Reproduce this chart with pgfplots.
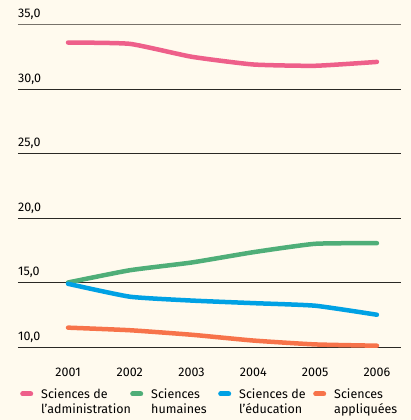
\documentclass[border=0pt]{standalone}
\usepackage{fontspec}
\setmainfont{Fira Sans}
\usepackage{pgfplots}
\pgfplotsset{compat=1.18}
\definecolor{bg}{HTML}{FFFAEE}
\definecolor{cpink}{HTML}{EE5F8A}
\definecolor{cgreen}{HTML}{4FAE78}
\definecolor{cblue}{HTML}{00A1E4}
\definecolor{corange}{HTML}{F7734A}
\definecolor{gridc}{HTML}{2A2824}
\definecolor{gridtop}{HTML}{77726A}
\begin{document}
\begin{tikzpicture}[font=\fontsize{12.5}{15}\selectfont]
\fill[bg] (-18pt,-73pt) rectangle (393pt,347pt);
\begin{axis}[
  scale only axis, width=383pt, height=322.5pt,
  xmin=2000.19, xmax=2006.39, ymin=10, ymax=35,
  axis line style={draw=none}, major tick length=0pt,
  ytick={10,15,20,25,30},
  extra y ticks={35},
  extra y tick style={grid style={gridtop, line width=1.2pt}},
  xtick={2001,2002,2003,2004,2005,2006},
  ymajorgrids, grid style={gridc, line width=0.75pt},
  /pgf/number format/assume math mode=true,
  yticklabel style={anchor=south west, inner sep=0pt, yshift=4.5pt,
    /pgf/number format/.cd, fixed, fixed zerofill, precision=1, use comma},
  xticklabel style={anchor=base, inner sep=0pt, yshift=-29pt, /pgf/number format/1000 sep={}},
  legend columns=4,
  legend style={at={(rel axis cs:0,0)}, anchor=north west, xshift=2pt, yshift=-42pt,
    draw=none, fill=none, inner sep=0pt, column sep=0pt,
    nodes={inner sep=0pt}, cells={anchor=base west}},
  legend image code/.code={
    \path[draw=none, line width=0pt] (0pt,0pt) -- (21pt,0pt);
    \draw[#1, line width=5pt, line cap=round] (2.5pt,5pt) -- (10.5pt,5pt);},
  every axis plot/.append style={line width=4.5pt, line cap=round, line join=round},
]
\addplot[cpink, smooth, tension=0.3] coordinates {(2001,33.6) (2002,33.5) (2003,32.5) (2004,31.9) (2005,31.8) (2006,32.1)};
\addlegendentry{\parbox[t]{89pt}{Sciences de\\l’administration}}
\addplot[cgreen, smooth, tension=0.3] coordinates {(2001,15.0) (2002,15.95) (2003,16.55) (2004,17.35) (2005,18.0) (2006,18.05)};
\addlegendentry{\parbox[t]{67pt}{Sciences\\humaines}}
\addplot[cblue, smooth, tension=0.3] coordinates {(2001,14.9) (2002,13.9) (2003,13.6) (2004,13.4) (2005,13.2) (2006,12.5)};
\addlegendentry{\parbox[t]{74pt}{Sciences de\\l’éducation}}
\addplot[corange, smooth, tension=0.3] coordinates {(2001,11.5) (2002,11.3) (2003,10.95) (2004,10.5) (2005,10.2) (2006,10.1)};
\addlegendentry{\parbox[t]{70pt}{Sciences\\appliquées}}
\end{axis}
\pgfresetboundingbox
\path (-18pt,-73pt) rectangle (393pt,347pt);
\end{tikzpicture}
\end{document}
